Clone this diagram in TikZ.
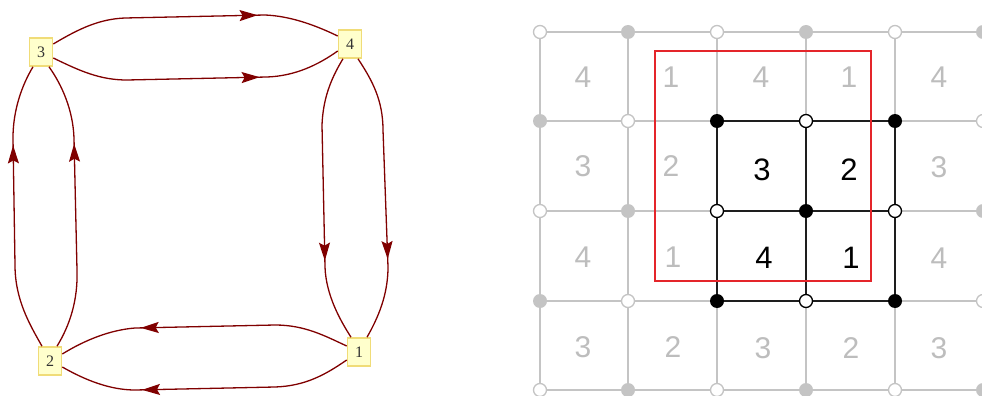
\documentclass[tikz,border=0pt]{standalone}
\usepackage{fontspec}
\setmainfont{Liberation Serif}
\newfontfamily\gridfont{Liberation Sans}
\usetikzlibrary{arrows.meta,decorations.markings}

\definecolor{edgered}{HTML}{800000}
\definecolor{boxfill}{HTML}{FFFFCC}
\definecolor{boxline}{HTML}{F0DC78}
\definecolor{gridgray}{HTML}{C4C4C4}
\definecolor{numgray}{HTML}{BDBDBD}
\definecolor{framered}{HTML}{E4252A}
\definecolor{inkblack}{HTML}{1E1E1E}

\tikzset{
  vbox/.style={draw=boxline, fill=boxfill, line width=1.6pt,
    minimum width=23pt, minimum height=28pt, inner sep=0pt,
    font=\fontsize{16}{16}\selectfont, text=black!80},
  flow/.style={color=edgered, line width=1.3pt, postaction={decorate},
    decoration={markings, mark=at position 0.715 with
      {\arrow{Stealth[length=18pt,width=11pt,inset=3pt]}}}},
  gridline/.style={draw=gridgray, line width=1.7pt},
  inkline/.style={draw=inkblack, line width=1.7pt},
  frameline/.style={draw=framered, line width=2.6pt},
  dotgray/.style={circle, fill=gridgray, inner sep=0pt, minimum size=14pt},
  ringgray/.style={circle, draw=gridgray, fill=white, line width=1.3pt, inner sep=0pt, minimum size=13pt},
  dotblack/.style={circle, fill=black, inner sep=0pt, minimum size=14pt},
  ringblack/.style={circle, draw=black, fill=white, line width=1.3pt, inner sep=0pt, minimum size=13pt},
  faint/.style={text=numgray, inner sep=0pt, font=\gridfont\fontsize{30}{30}\selectfont},
  bold/.style={text=black, inner sep=0pt, font=\gridfont\fontsize{31}{31}\selectfont},
}

\begin{document}
\begin{tikzpicture}[x=1pt, y=-1pt]
\useasboundingbox (0,0) rectangle (982,396);

% ---- directed 4-cycle with doubled edges ----
\node[vbox] (n3) at (41,52) {3};
\node[vbox] (n4) at (350,44) {4};
\node[vbox] (n1) at (359,352) {1};
\node[vbox] (n2) at (50,361) {2};

\draw[flow] ([yshift=8pt]n3.east) .. controls (80,28) and (100,19) .. (125,18)
  -- (265,15) .. controls (290,16) and (315,25) .. ([yshift=8pt]n4.west);
\draw[flow] ([yshift=-6pt]n3.east) .. controls (80,71) and (100,80) .. (127,80)
  -- (267,77) .. controls (295,76) and (318,65) .. ([yshift=-7pt]n4.west);

\draw[flow] ([xshift=-7pt]n4.south) .. controls (330,80) and (323,100) .. (322,125)
  -- (325,267) .. controls (326,295) and (340,320) .. ([xshift=-8pt]n1.north);
\draw[flow] ([xshift=8pt]n4.south) .. controls (372,80) and (383,100) .. (383,130)
  -- (388,267) .. controls (388,295) and (378,318) .. ([xshift=8pt]n1.north);

\draw[flow] ([yshift=6pt]n1.west) .. controls (325,336) and (305,325) .. (275,325)
  -- (135,328) .. controls (110,330) and (85,340) .. ([yshift=7pt]n2.east);
\draw[flow] ([yshift=-8pt]n1.west) .. controls (325,375) and (305,386) .. (275,387)
  -- (135,390) .. controls (110,390) and (85,380) .. ([yshift=-6pt]n2.east);

\draw[flow] ([xshift=-8pt]n2.north) .. controls (30,325) and (15,300) .. (15,265)
  -- (13,138) .. controls (13,110) and (22,85) .. ([xshift=-8pt]n3.south);
\draw[flow] ([xshift=7pt]n2.north) .. controls (70,325) and (78,300) .. (77,270)
  -- (74,138) .. controls (73,110) and (62,85) .. ([xshift=8pt]n3.south);

% ---- periodic lattice ----
\foreach \y in {32,121,211,301,390}
  \draw[gridline] (540,\y) -- (983,\y);
\foreach \x in {540,628,717,806,895}
  \draw[gridline] (\x,32) -- (\x,390);

% highlighted 2x2 block
\foreach \y in {121,211,301}
  \draw[inkline] (717,\y) -- (895,\y);
\foreach \x in {717,806,895}
  \draw[inkline] (\x,121) -- (\x,301);

% fundamental domain
\draw[frameline] (655,51) rectangle (871,281);

% lattice vertices, alternating filled and open
\foreach \r/\y in {0/32,1/121,2/211,3/301,4/390}{
  \foreach \c/\x in {0/540,1/628,2/717,3/806,4/895,5/983}{
    \pgfmathtruncatemacro{\pty}{mod(\r+\c,2)}
    \pgfmathtruncatemacro{\inn}{(\r>0)&&(\r<4)&&(\c>1)&&(\c<5)}
    \ifnum\inn=1
      \ifnum\pty=1 \def\vsty{dotblack}\else\def\vsty{ringblack}\fi
    \else
      \ifnum\pty=1 \def\vsty{dotgray}\else\def\vsty{ringgray}\fi
    \fi
    \node[\vsty] (v-\r-\c) at (\x,\y) {};
  }
}

% cell labels
\node[faint] (g00) at (583,77) {4};
\node[faint] (g01) at (671,77) {1};
\node[faint] (g02) at (761,77) {4};
\node[faint] (g03) at (849,77) {1};
\node[faint] (g04) at (939,77) {4};
\node[faint] (g10) at (583,166) {3};
\node[faint] (g11) at (671,166) {2};
\node[faint] (g14) at (939,167) {3};
\node[faint] (g20) at (583,257) {4};
\node[faint] (g21) at (673,257) {1};
\node[faint] (g24) at (939,258) {4};
\node[faint] (g30) at (583,347) {3};
\node[faint] (g31) at (673,347) {2};
\node[faint] (g32) at (763,348) {3};
\node[faint] (g33) at (851,348) {2};
\node[faint] (g34) at (939,348) {3};

\node[bold] (b12) at (762,170) {3};
\node[bold] (b13) at (849,170) {2};
\node[bold] (b22) at (764,258) {4};
\node[bold] (b23) at (851,258) {1};
\end{tikzpicture}
\end{document}
